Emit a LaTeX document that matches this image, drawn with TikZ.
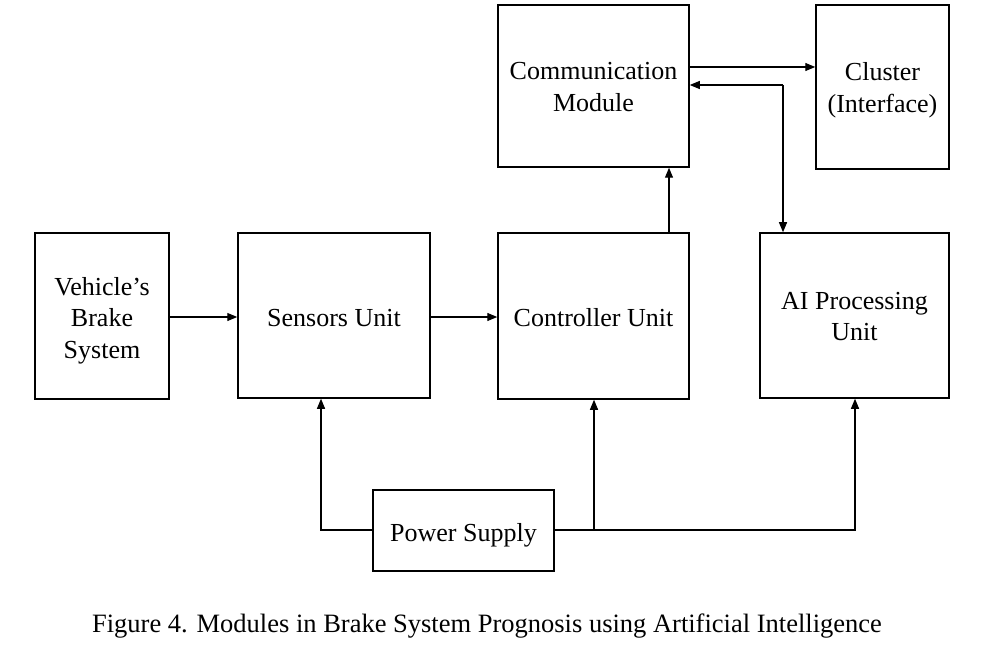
\documentclass[tikz,border=0pt]{standalone}
\usepackage{fontspec}
\setmainfont{Liberation Serif}
\usetikzlibrary{arrows.meta}
\begin{document}
\begin{tikzpicture}[x=1pt,y=-1pt,
  blk/.style={draw,line width=1.5pt,inner sep=0pt},
  txt/.style={inner sep=0pt,align=center,font=\fontsize{26}{31.5}\selectfont},
  conn/.style={line width=1.2pt,-{Triangle[length=10pt,width=8pt]}}]
\useasboundingbox (0,0) rectangle (993,663);
\fill[white] (0,0) rectangle (993,663);
\node[blk,minimum width=134pt,minimum height=166pt] (veh) at (102,316) {};
\node[blk,minimum width=192pt,minimum height=165pt] (sen) at (334,315.5) {};
\node[blk,minimum width=191pt,minimum height=166pt] (ctl) at (593.5,316) {};
\node[blk,minimum width=189pt,minimum height=165pt] (ai) at (854.5,315.5) {};
\node[blk,minimum width=191pt,minimum height=162pt] (com) at (593.5,86) {};
\node[blk,minimum width=133pt,minimum height=164pt] (clu) at (882.5,87) {};
\node[blk,minimum width=181pt,minimum height=81pt] (pow) at (463.5,530.5) {};
\node[txt] (vehT) at ([yshift=-4.5pt]veh.center) {Vehicle's\\Brake\\System};
\node[txt] (senT) at ([yshift=-3pt]sen.center) {Sensors Unit};
\node[txt] (ctlT) at ([yshift=-2pt]ctl.center) {Controller Unit};
\node[txt] (aiT) at ([yshift=-1pt]ai.center) {AI Processing\\Unit};
\node[txt] (comT) at ([yshift=-1pt]com.center) {Communication\\Module};
\node[txt] (cluT) at ([yshift=-3pt]clu.center) {Cluster\\(Interface)};
\node[txt] (powT) at ([yshift=-5pt]pow.center) {Power Supply};
\node[font=\fontsize{26.5}{30}\selectfont] (cap) at (487,626) {Figure 4. Modules in Brake System Prognosis using Artificial Intelligence};
\coordinate (corner) at (783,85);
\coordinate (pl) at (321,530);
\coordinate (pr) at (855,530);
\coordinate (pm) at (594,530);
\draw[conn] (veh.east |- 0,317) -- (sen.west |- 0,317);
\draw[conn] (sen.east |- 0,317) -- (ctl.west |- 0,317);
\draw[conn] (669,233) coordinate (c1) -- (c1 |- com.south);
\draw[conn] (com.east |- 0,67) -- (clu.west |- 0,67);
\draw[conn] (corner) -- (com.east |- corner);
\draw[conn] (corner) -- (corner |- ai.north);
\draw[conn] (pow.west |- pl) -- (pl) -- (pl |- sen.south);
\draw[conn] (pow.east |- pr) -- (pr) -- (pr |- ai.south);
\draw[conn] (pm) -- (pm |- ctl.south);
\end{tikzpicture}
\end{document}
